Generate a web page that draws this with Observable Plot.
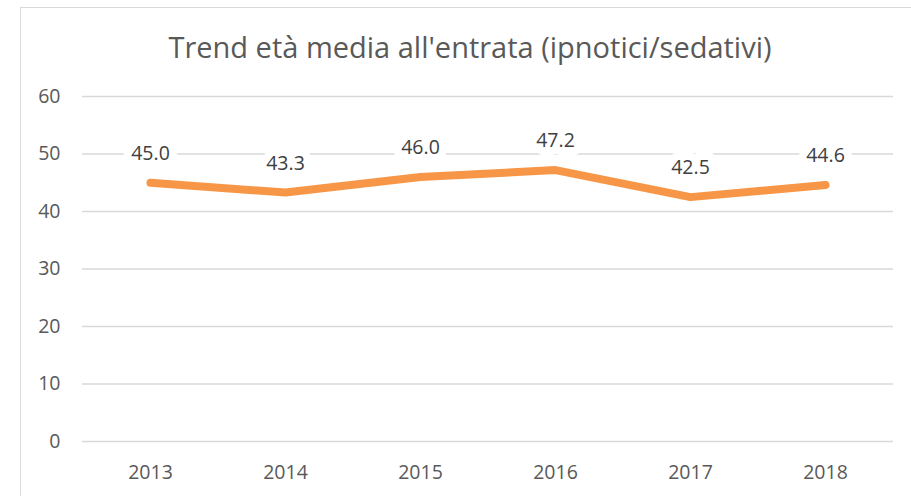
<!DOCTYPE html>
<html>
<head>
<meta charset="utf-8">
<script src="https://cdn.jsdelivr.net/npm/d3@7"></script>
<script src="https://cdn.jsdelivr.net/npm/@observablehq/plot@0.6"></script>
<style>
  html, body { margin: 0; padding: 0; background: white; overflow: hidden; }
  #wrap { position: relative; width: 911px; height: 496px; overflow: hidden; }
  #border { position: absolute; left: 20px; top: 7px; width: 2000px; height: 2000px;
            border: 1.5px solid #d9d9d9; pointer-events: none; box-sizing: border-box; }
</style>
</head>
<body>
<div id="wrap"><div id="border"></div></div>
<script>
const years = ["2013", "2014", "2015", "2016", "2017", "2018"];
const ages = [45.0, 43.3, 46.0, 47.2, 42.5, 44.6];
const yTicks = [0, 10, 20, 30, 40, 50, 60];
const title = "Trend età media all'entrata (ipnotici/sedativi)";

const data = years.map((y, i) => ({year: y, age: ages[i]}));

const chart = Plot.plot({
  width: 911,
  height: 496,
  marginLeft: 82,
  marginRight: 18,
  marginTop: 96,
  marginBottom: 55,
  style: {fontFamily: "'Open Sans', sans-serif", fontSize: "19px", color: "#595959", background: "white"},
  x: {type: "point", domain: years, padding: 0.5, label: null},
  y: {domain: [0, 60], label: null},
  marks: [
    Plot.gridY(yTicks, {stroke: "#d9d9d9", strokeOpacity: 1, strokeWidth: 1.5}),
    Plot.axisY(yTicks, {tickSize: 0, tickPadding: 22, fill: "#595959", fontSize: 19.5, label: null}),
    Plot.axisX({tickSize: 0, tickPadding: 24, fill: "#595959", fontSize: 19.5, label: null}),
    Plot.line(data, {x: "year", y: "age", stroke: "#F79646", strokeWidth: 8,
      strokeLinecap: "round", strokeLinejoin: "round"}),
    Plot.text(data, {x: "year", y: "age", text: d => d.age.toFixed(1), dy: -29,
      fill: "#404040", stroke: "white", strokeWidth: 16, fontSize: 19.5}),
    Plot.text([title], {frameAnchor: "top", lineAnchor: "middle", dx: -18, dy: -48,
      text: d => d, fontSize: 29, fill: "#595959"})
  ]
});
document.getElementById("wrap").prepend(chart);
</script>
</body>
</html>
